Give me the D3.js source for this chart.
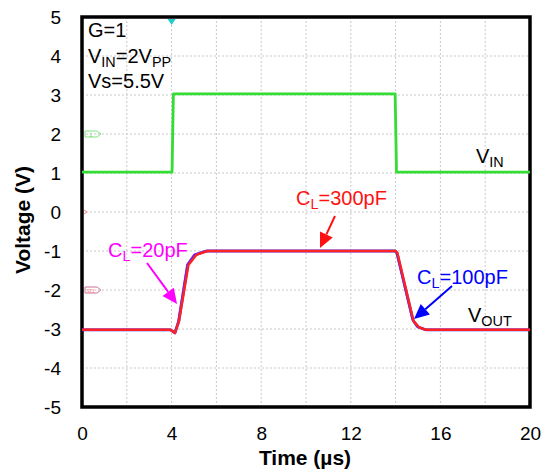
<!DOCTYPE html>
<html>
<head>
<meta charset="utf-8">
<script src="https://cdn.jsdelivr.net/npm/d3@7"></script>
<style>
  body { margin: 0; background: #fff; }
  svg { display: block; font-family: Arial, "Liberation Sans", sans-serif; }
</style>
</head>
<body>
<div id="chart"></div>
<script>
// time axis in microseconds, voltages in volts
const xTicks = [0, 4, 8, 12, 16, 20]
const yTicks = [5, 4, 3, 2, 1, 0, -1, -2, -3, -4, -5]

const vinT = [0, 4.02, 4.08, 13.98, 14.04, 20]
const vinV = [1.02, 1.02, 3.03, 3.03, 1.02, 1.02]

const out20T = [0, 3.95, 4.15, 4.3, 4.7, 5.0, 5.5, 13.98, 14.05, 14.75, 14.95, 15.3, 20]
const out20V = [-3.02, -3.02, -3.1, -2.8, -1.35, -1.1, -1.0, -1.0, -1.05, -2.75, -2.93, -3.02, -3.02]

const out100T = [0, 3.95, 4.15, 4.32, 4.72, 5.05, 5.55, 13.98, 14.06, 14.78, 15.0, 15.35, 20]
const out100V = [-3.02, -3.02, -3.1, -2.8, -1.36, -1.1, -1.0, -1.0, -1.05, -2.78, -2.95, -3.02, -3.02]

const out300T = [0, 3.95, 4.15, 4.33, 4.75, 5.1, 5.6, 14.0, 14.08, 14.8, 15.05, 15.35, 20]
const out300V = [-3.02, -3.02, -3.1, -2.8, -1.36, -1.1, -1.0, -1.0, -1.05, -2.8, -2.96, -3.02, -3.02]

const W = 545, H = 472
const m = { left: 82, top: 17, right: 15, bottom: 65 }
const FONT = 'Arial, "Liberation Sans", sans-serif'

const svg = d3.select('#chart').append('svg')
  .attr('width', W).attr('height', H)

const x = d3.scaleLinear().domain([0, 20]).range([m.left, W - m.right])
const y = d3.scaleLinear().domain([-5, 5]).range([H - m.bottom, m.top])

// grid
const grid = svg.append('g')
  .attr('stroke', '#c8c8c8').attr('stroke-width', 1).attr('stroke-dasharray', '2,2')
grid.selectAll('.gx').data(d3.range(2, 20, 2)).enter()
  .append('line')
    .attr('x1', d => x(d)).attr('x2', d => x(d))
    .attr('y1', y(5)).attr('y2', y(-5))
grid.selectAll('.gy').data(d3.range(-4, 5, 1)).enter()
  .append('line')
    .attr('x1', x(0)).attr('x2', x(20))
    .attr('y1', d => y(d)).attr('y2', d => y(d))

// axes
const xAxis = svg.append('g')
  .attr('transform', `translate(0,${y(-5)})`)
  .call(d3.axisBottom(x).tickValues(xTicks).tickSize(0).tickPadding(20).tickFormat(d => String(d)))
const yAxis = svg.append('g')
  .attr('transform', `translate(${x(0)},0)`)
  .call(d3.axisLeft(y).tickValues(yTicks).tickSize(0).tickPadding(21).tickFormat(d => String(d)))
;[xAxis, yAxis].forEach(a => {
  a.select('.domain').remove()
  a.selectAll('text').attr('font-size', 19).attr('fill', '#000').attr('font-family', FONT)
})

svg.append('rect')
  .attr('x', x(0)).attr('y', y(5))
  .attr('width', x(20) - x(0)).attr('height', y(-5) - y(5))
  .attr('fill', 'none').attr('stroke', '#000').attr('stroke-width', 3.5)

svg.append('text')
  .attr('x', 305).attr('y', 465)
  .attr('text-anchor', 'middle').attr('font-size', 21).attr('font-weight', 'bold')
  .text('Time (µs)')
svg.append('text')
  .attr('transform', `translate(30,${y(0) + 8}) rotate(-90)`)
  .attr('text-anchor', 'middle').attr('font-size', 21).attr('font-weight', 'bold')
  .text('Voltage (V)')

// traces
const line = d3.line().x(d => x(d[0])).y(d => y(d[1]))
const traces = [
  { t: vinT, v: vinV, color: '#33dd33', w: 2.8 },
  { t: out20T, v: out20V, color: '#ee22ee', w: 2.2 },
  { t: out100T, v: out100V, color: '#3333ff', w: 2.8 },
  { t: out300T, v: out300V, color: '#ff2222', w: 2.5 }
]
svg.append('g').attr('fill', 'none')
  .selectAll('path').data(traces).enter()
  .append('path')
    .attr('d', d => line(d.t.map((t, i) => [t, d.v[i]])))
    .attr('stroke', d => d.color)
    .attr('stroke-width', d => d.w)
    .attr('stroke-linejoin', 'round')

// scope markers
svg.append('path')
  .attr('d', `M${x(4) - 4},${y(5) + 2}L${x(4) + 4},${y(5) + 2}L${x(4)},${y(5) + 8}Z`)
  .attr('fill', '#22cccc')
const mk = (vy, color, label) => {
  const g = svg.append('g').attr('transform', `translate(${x(0) + 3},${y(vy)})`)
  g.append('path').attr('d', 'M0,-3L12,-3L16,0L12,3L0,3Z')
    .attr('fill', 'none').attr('stroke', color).attr('stroke-width', 0.8)
  g.append('text').attr('x', 6).attr('y', 2.5).attr('font-size', 6)
    .attr('text-anchor', 'middle').attr('fill', color).text(label)
}
mk(2, '#66dd66', '1')
mk(-2, '#9999ff', '')
mk(-2, '#ff8888', 'R1')
svg.append('path').attr('d', `M${x(0) + 2},${y(0) - 2}L${x(0) + 5},${y(0)}L${x(0) + 2},${y(0) + 2}`)
  .attr('fill', 'none').attr('stroke', '#ff6666').attr('stroke-width', 0.8)

// annotations
const sub = (g, px, py, parts, color, size) => {
  const t = g.append('text').attr('x', px).attr('y', py)
    .attr('font-size', size).attr('fill', color)
  parts.forEach(p => {
    const s = t.append('tspan').text(p[0])
    if (p[1]) s.attr('font-size', size * 0.72).attr('dy', 4)
    else if (p[2]) s.attr('dy', -4)
  })
}
const ann = svg.append('g')
ann.append('text').attr('x', 88).attr('y', 37).attr('font-size', 20).text('G=1')
sub(ann, 88, 63, [['V'], ['IN', 1], ['=2V', 0, 1], ['PP', 1]], '#000', 20)
ann.append('text').attr('x', 88).attr('y', 88).attr('font-size', 20).text('Vs=5.5V')
sub(ann, 476, 163, [['V'], ['IN', 1]], '#000', 20)
sub(ann, 468, 322, [['V'], ['OUT', 1]], '#000', 20)
sub(ann, 296, 205, [['C'], ['L', 1], ['=300pF', 0, 1]], '#ff1111', 20)
sub(ann, 108, 257, [['C'], ['L', 1], ['=20pF', 0, 1]], '#ff00ff', 20)
sub(ann, 417, 284, [['C'], ['L', 1], ['=100pF', 0, 1]], '#0000ff', 20)

const arrow = (x1, y1, x2, y2, color) => {
  const a = Math.atan2(y2 - y1, x2 - x1), L = 15, hw = 7
  const bx = x2 - L * Math.cos(a), by = y2 - L * Math.sin(a)
  ann.append('line').attr('x1', x1).attr('y1', y1).attr('x2', bx).attr('y2', by)
    .attr('stroke', color).attr('stroke-width', 2)
  ann.append('path')
    .attr('d', `M${x2},${y2}L${bx - hw * Math.sin(a)},${by + hw * Math.cos(a)}L${bx + hw * Math.sin(a)},${by - hw * Math.cos(a)}Z`)
    .attr('fill', color)
}
arrow(335, 216, 320, 248, '#ff1111')
arrow(147, 263, 177, 304, '#ff00ff')
arrow(452, 286, 414, 319, '#0000ff')
</script>
</body>
</html>
